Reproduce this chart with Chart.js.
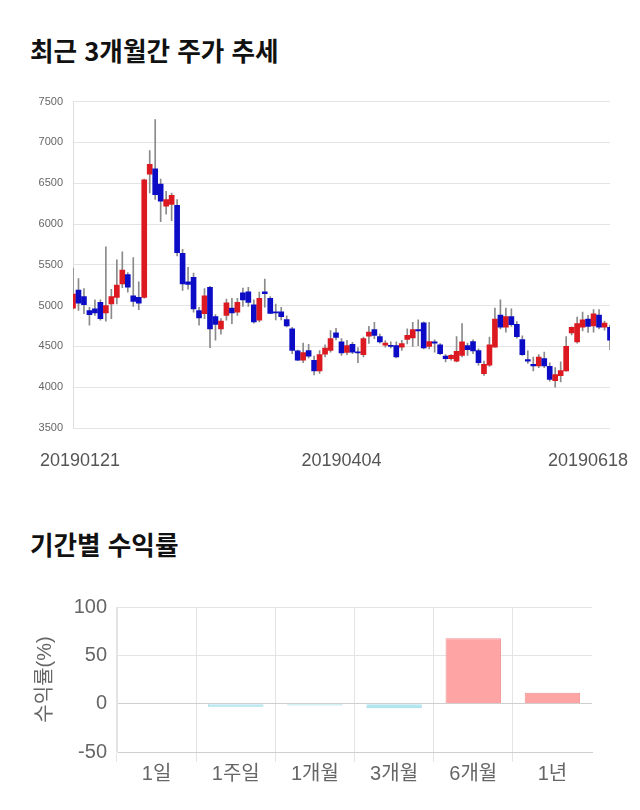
<!DOCTYPE html>
<html lang="ko">
<head>
<meta charset="utf-8">
<script src="https://cdn.jsdelivr.net/npm/chart.js@4.4.1/dist/chart.umd.min.js"></script>
<style>
  html, body { margin: 0; padding: 0; background: #fff; }
  body { width: 640px; height: 810px; position: relative; overflow: hidden; font-family: 'Noto Sans CJK KR', sans-serif; }
  .title { position: absolute; left: 30px; font-size: 25.6px; font-weight: bold; color: #111; line-height: 1; margin: 0; }
  #priceTitle { top: 37px; }
  #returnTitle { top: 531px; }
  #priceWrap { position: absolute; left: 0; top: 85px; width: 640px; height: 395px; }
  #returnWrap { position: absolute; left: 0; top: 585px; width: 640px; height: 215px; }
</style>
</head>
<body>
<h2 class="title" id="priceTitle">최근 3개월간 주가 추세</h2>
<div id="priceWrap"><canvas id="priceChart"></canvas></div>
<h2 class="title" id="returnTitle">기간별 수익률</h2>
<div id="returnWrap"><canvas id="returnChart"></canvas></div>

<script>
// trading days shown on the candle chart
const dates = [
    '20190121', '20190122', '20190123', '20190124', '20190125', '20190128', '20190129', '20190130', '20190131',
    '20190201', '20190207', '20190208', '20190211', '20190212', '20190213', '20190214', '20190215',
    '20190218', '20190219', '20190220', '20190221', '20190222', '20190225', '20190226', '20190227', '20190228',
    '20190304', '20190305', '20190306', '20190307', '20190308', '20190311', '20190312', '20190313', '20190314', '20190315',
    '20190318', '20190319', '20190320', '20190321', '20190322', '20190325', '20190326', '20190327', '20190328', '20190329',
    '20190401', '20190402', '20190403', '20190404', '20190405', '20190408', '20190409', '20190410', '20190411', '20190412',
    '20190415', '20190416', '20190417', '20190418', '20190419', '20190422', '20190423', '20190424', '20190425', '20190426',
    '20190429', '20190430', '20190503', '20190507', '20190508', '20190509', '20190510',
    '20190513', '20190514', '20190515', '20190516', '20190517', '20190520', '20190521', '20190522', '20190523', '20190524',
    '20190527', '20190528', '20190529', '20190530', '20190531', '20190603', '20190604', '20190605', '20190607',
    '20190610', '20190611', '20190612', '20190613', '20190614', '20190617', '20190618'
];

const openPrices = [
    4970, 5190, 5110, 4940, 4960, 5040, 4910, 5020, 5100, 5265, 5380, 5120, 5100, 5100, 6610, 6675, 6490, 6220, 6240, 6230,
    5640, 5290, 5345, 4940, 4900, 5225, 4865, 4715, 4880, 4970, 4920, 5155, 5170, 5010, 4820, 5170, 5090, 4925, 4925, 4830,
    4715, 4445, 4330, 4450, 4330, 4200, 4405, 4450, 4665, 4555, 4425, 4525, 4430, 4400, 4625, 4705, 4620, 4515, 4510, 4510,
    4490, 4585, 4605, 4705, 4790, 4500, 4555, 4520, 4380, 4350, 4320, 4390, 4510, 4560, 4450, 4165, 4270, 4490, 4885, 4735,
    4865, 4770, 4585, 4340, 4280, 4260, 4350, 4255, 4080, 4140, 4200, 4665, 4555, 4735, 4835, 4750, 4885, 4735, 4735
];
const highPrices = [
    5460, 5330, 5210, 4980, 5070, 5070, 5720, 5200, 5560, 5660, 5405, 5590, 5290, 6550, 6900, 7280, 6550, 6400, 6380, 6300,
    5690, 5470, 5400, 4980, 5210, 5235, 4890, 4840, 5080, 5090, 5090, 5215, 5225, 5070, 5165, 5325, 5110, 5020, 4980, 4875,
    4735, 4455, 4540, 4525, 4380, 4450, 4520, 4695, 4720, 4595, 4575, 4550, 4485, 4615, 4745, 4795, 4650, 4570, 4555, 4555,
    4575, 4715, 4795, 4825, 4800, 4795, 4580, 4535, 4400, 4400, 4620, 4780, 4540, 4580, 4470, 4320, 4615, 4970, 5070, 4970,
    4960, 4805, 4630, 4445, 4370, 4400, 4430, 4300, 4240, 4310, 4620, 4740, 4860, 4920, 4880, 4950, 4950, 4810, 4760
];
const lowPrices = [
    4960, 4940, 4900, 4760, 4880, 4820, 4810, 4840, 5020, 5220, 5165, 4990, 4950, 5090, 6380, 6300, 6030, 6120, 6040, 5610,
    5185, 5200, 4920, 4760, 4840, 4485, 4575, 4650, 4820, 4780, 4880, 4990, 4990, 4785, 4800, 4980, 4900, 4825, 4825, 4740,
    4410, 4325, 4300, 4360, 4150, 4170, 4370, 4430, 4580, 4390, 4400, 4410, 4300, 4370, 4535, 4595, 4540, 4490, 4480, 4360,
    4450, 4530, 4500, 4510, 4470, 4470, 4430, 4400, 4310, 4330, 4310, 4370, 4390, 4410, 4270, 4145, 4255, 4490, 4715, 4675,
    4745, 4600, 4390, 4290, 4200, 4240, 4240, 4075, 4000, 4065, 4195, 4640, 4540, 4690, 4670, 4675, 4715, 4700, 4460
];
const closePrices = [
    5140, 5030, 5010, 4890, 4910, 4840, 5000, 5110, 5250, 5435, 5225, 5050, 5030, 6540, 6730, 6360, 6280, 6300, 6350, 5650,
    5265, 5260, 4960, 4850, 5120, 4715, 4770, 4810, 5035, 4910, 5040, 5070, 5040, 4800, 5090, 5145, 4905, 4910, 4865, 4750,
    4450, 4330, 4425, 4380, 4200, 4400, 4480, 4595, 4610, 4420, 4510, 4430, 4420, 4595, 4675, 4635, 4555, 4540, 4500, 4370,
    4535, 4635, 4705, 4690, 4480, 4560, 4540, 4410, 4350, 4390, 4440, 4555, 4460, 4445, 4300, 4280, 4520, 4835, 4735, 4865,
    4765, 4620, 4400, 4320, 4260, 4370, 4260, 4095, 4155, 4205, 4500, 4735, 4780, 4825, 4745, 4900, 4735, 4785, 4575
];
const dateTickIndex = [0, 49, 98];

// period returns (%)
const periods = ['1일', '1주일', '1개월', '3개월', '6개월', '1년'];
const returns = [0, -3.2, -1.8, -4.8, 67.7, 11.2];

const UP_COLOR = '#dc1820';
const DOWN_COLOR = '#0c0cc6';
const FONT = "'Liberation Sans', 'Noto Sans CJK KR', Arial, sans-serif";

Chart.defaults.font.family = FONT;
Chart.defaults.animation = false;

// draws the three date labels under the candle chart, kept inside the page
const dateLabelPlugin = {
    id: 'dateLabels',
    afterDraw(chart) {
        const { ctx, chartArea } = chart;
        const xScale = chart.scales.x;
        ctx.save();
        ctx.font = '18px ' + FONT;
        ctx.fillStyle = '#555';
        ctx.textAlign = 'center';
        ctx.textBaseline = 'middle';
        dateTickIndex.forEach(function (i) {
            const text = dates[i];
            const half = ctx.measureText(text).width / 2;
            let px = xScale.getPixelForValue(i);
            px = Math.max(px, 40 + half);
            px = Math.min(px, chart.width - 12 - half);
            ctx.fillText(text, px, chartArea.bottom + 33);
        });
        ctx.restore();
    }
};

new Chart(document.getElementById('priceChart'), {
    type: 'bar',
    data: {
        labels: dates,
        datasets: [{
            label: 'body',
            data: dates.map((d, i) => [openPrices[i], closePrices[i]]),
            backgroundColor: dates.map((d, i) => closePrices[i] >= openPrices[i] ? UP_COLOR : DOWN_COLOR),
            barThickness: 5,
            minBarLength: 1,
            grouped: false,
            order: 0
        }, {
            label: 'wick',
            data: dates.map((d, i) => [lowPrices[i], highPrices[i]]),
            backgroundColor: '#8a8a8a',
            barThickness: 1,
            grouped: false,
            order: 1
        }]
    },
    options: {
        responsive: true,
        maintainAspectRatio: false,
        layout: { padding: { left: 0, right: 30, top: 15, bottom: 52 } },
        plugins: { legend: { display: false }, tooltip: { enabled: false } },
        scales: {
            x: { display: false, offset: false },
            y: {
                min: 3500,
                max: 7500,
                ticks: {
                    stepSize: 500,
                    color: '#666',
                    font: { size: 11 },
                    padding: 10,
                    callback: function (value) { return String(value); }
                },
                grid: { color: '#e4e4e4', drawTicks: false },
                border: { color: '#dedede' },
                afterFit: function (scale) { scale.width = 73; }
            }
        }
    },
    plugins: [dateLabelPlugin]
});

new Chart(document.getElementById('returnChart'), {
    type: 'bar',
    data: {
        labels: periods,
        datasets: [{
            label: '수익률(%)',
            data: returns,
            backgroundColor: returns.map(v => v >= 0 ? '#ffa4a4' : '#b2e6f0'),
            borderColor: returns.map(v => v >= 0 ? '#f29090' : '#98d8e6'),
            borderWidth: 1,
            barPercentage: 0.7,
            categoryPercentage: 1.0
        }]
    },
    options: {
        responsive: true,
        maintainAspectRatio: false,
        layout: { padding: { left: 29, right: 48, top: 20, bottom: 14 } },
        plugins: { legend: { display: false }, tooltip: { enabled: false } },
        scales: {
            x: {
                grid: {
                    offset: true,
                    tickLength: 10,
                    color: ctx => ctx.type === 'tick' ? '#e4e4e4' : 'rgba(0,0,0,0)'
                },
                border: { color: '#cfcfcf' },
                ticks: { color: '#666', font: { size: 20 }, padding: 0 }
            },
            y: {
                min: -50,
                max: 100,
                ticks: { stepSize: 50, color: '#666', font: { size: 20 }, padding: 10 },
                grid: {
                    drawTicks: false,
                    color: ctx => (ctx.tick && ctx.tick.value === 0) ? '#cfcfcf' : '#e4e4e4'
                },
                border: { color: '#e4e4e4' },
                title: { display: true, text: '수익률(%)', color: '#666', font: { size: 20 }, padding: { top: 4, bottom: 4 } },
                afterFit: function (scale) { scale.width = 88; }
            }
        }
    }
});
</script>
</body>
</html>
